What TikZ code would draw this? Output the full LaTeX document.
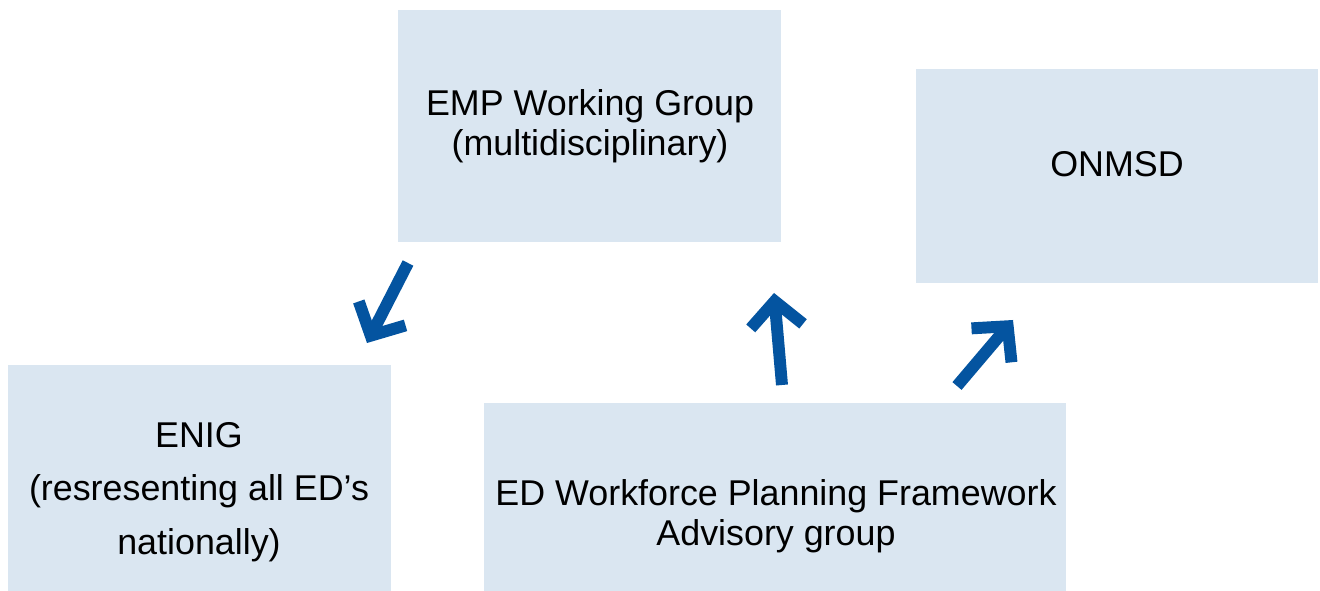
\documentclass[tikz,border=0pt]{standalone}
\usepackage{fontspec}
\setmainfont{Liberation Sans}
\usetikzlibrary{arrows.meta}
\definecolor{boxfill}{RGB}{218,230,241}
\definecolor{arrowblue}{RGB}{4,84,160}
\tikzset{
  panel/.style={fill=boxfill, draw=none, inner sep=0pt, anchor=north west},
  lbl/.style={align=center, inner sep=0pt, font=\fontsize{20.4}{22.8}\selectfont},
  lblwide/.style={align=center, inner sep=0pt, font=\fontsize{20.4}{30.6}\selectfont},
  bigarrow/.style={arrowblue, line width=6.8pt,
    -{Straight Barb[length=0.5cm, width=1.05cm]}}
}
\begin{document}
\begin{tikzpicture}[x=0.02cm, y=-0.02cm]
\useasboundingbox (0,0) rectangle (1320,591);
% boxes
\node[panel, minimum width=383*0.02cm, minimum height=232*0.02cm] (emp) at (398,10) {};
\node[panel, minimum width=402*0.02cm, minimum height=214*0.02cm] (onmsd) at (916,69) {};
\node[panel, minimum width=383*0.02cm, minimum height=226*0.02cm] (enig) at (8,365) {};
\node[panel, minimum width=582*0.02cm, minimum height=188*0.02cm] (edw) at (484,403) {};
% texts
\node[lbl] (emptxt) at (590,126) {EMP Working Group\\(multidisciplinary)};
\node[lbl] (onmsdtxt) at (1117,164) {ONMSD};
\node[lblwide] (enigtxt) at (199,492) {ENIG\\(resresenting all ED’s\\nationally)};
\node[lbl] (edwtxt) at (776,516) {ED Workforce Planning Framework\\Advisory group};
% arrow end points
\coordinate (a1s) at (408,263);
\coordinate (a1e) at (367,343);
\coordinate (a2s) at (782,385);
\coordinate (a2e) at (774,293);
\coordinate (a3s) at (957,386);
\coordinate (a3e) at (1013,320);
\draw[bigarrow] (a1s) -- (a1e);
\draw[bigarrow] (a2s) -- (a2e);
\draw[bigarrow] (a3s) -- (a3e);
\end{tikzpicture}
\end{document}
